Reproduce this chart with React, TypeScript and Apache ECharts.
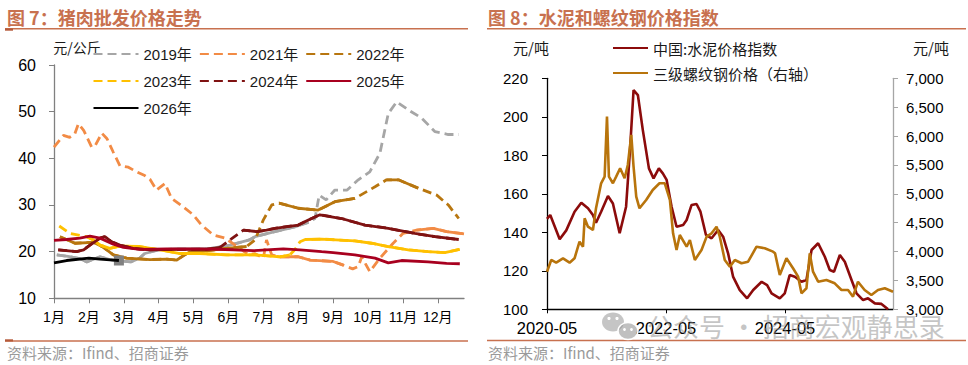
import React, { useEffect, useRef } from 'react';
import * as echarts from 'echarts';

// ---------- Left chart: 猪肉批发价格走势 ----------
const monthLabels = ['1月', '2月', '3月', '4月', '5月', '6月', '7月', '8月', '9月', '10月', '11月', '12月'];
const porkYears = ['2019年', '2021年', '2022年', '2023年', '2024年', '2025年', '2026年'];

// [month position (0 = 1月初, 1 = 2月初 ...), 元/公斤]
const pork2019: [number, number][] = [
  [0.08, 19.3], [0.4, 19.0], [0.75, 18.5], [0.94, 17.8], [1.1, 18.3], [1.32, 18.9], [1.6, 18.3], [1.9, 18.0],
  [2.2, 17.8], [2.45, 18.6], [2.6, 19.6], [3.0, 20.4], [3.5, 20.6], [4.0, 20.6], [4.5, 20.7], [5.04, 21.4],
  [5.6, 22.5], [5.76, 23.2], [6.33, 24.3], [6.9, 25.3], [7.3, 26.3], [7.48, 27.1], [7.6, 32.1], [7.8, 31.1],
  [8.05, 33.2], [8.4, 33.2], [8.72, 35.4], [9.05, 37.1], [9.34, 41.1], [9.58, 49.6], [9.82, 52.1], [10.15, 50.4],
  [10.54, 48.6], [10.92, 45.7], [11.3, 45.1], [11.6, 45.1],
];
const pork2021: [number, number][] = [
  [0, 42.4], [0.27, 44.9], [0.45, 44.5], [0.6, 45.3], [0.7, 47.4], [0.85, 46.0], [1.08, 42.4], [1.18, 42.7],
  [1.37, 45.4], [1.52, 44.2], [1.7, 41.3], [1.89, 38.4], [2.13, 38.1], [2.37, 37.1], [2.6, 36.3], [2.75, 35.5],
  [2.94, 33.2], [3.18, 34.6], [3.37, 31.4], [3.7, 29.6], [3.99, 27.9], [4.23, 25.7], [4.56, 23.6], [4.9, 22.9],
  [5.33, 20.7], [5.57, 19.3], [5.75, 19.6], [6.0, 18.6], [6.09, 22.5], [6.24, 19.3], [6.48, 18.9], [7.0, 18.9],
  [7.34, 18.2], [8.0, 17.9], [8.29, 17.1], [8.56, 16.3], [8.72, 16.8], [8.82, 18.9], [8.92, 17.5], [9.05, 15.7],
  [9.34, 18.6], [9.72, 21.8], [10.0, 23.9], [10.39, 24.6], [10.87, 25.0], [11.25, 24.3], [11.75, 23.8],
];
const pork2022: [number, number][] = [
  [0.17, 23.2], [0.6, 21.8], [1.13, 22.0], [1.4, 21.0], [1.7, 19.3], [2.08, 18.6], [2.75, 18.3], [3.23, 18.4],
  [3.52, 18.2], [3.7, 19.1], [3.9, 20.0], [4.18, 20.0], [4.95, 20.7], [5.52, 21.1], [5.76, 22.5], [6.0, 26.8],
  [6.24, 30.0], [6.45, 30.4], [7.0, 29.3], [7.57, 28.9], [8.05, 30.7], [8.62, 31.4], [9.2, 33.9], [9.53, 35.4],
  [9.87, 35.4], [10.44, 33.6], [10.97, 32.1], [11.3, 30.0], [11.6, 27.1],
];
const pork2023: [number, number][] = [
  [0.15, 25.5], [0.46, 23.9], [0.94, 23.2], [1.13, 22.5], [1.32, 21.4], [1.6, 20.7], [1.89, 21.2], [2.46, 21.1],
  [3.04, 20.4], [3.61, 19.6], [4.18, 19.6], [4.95, 19.3], [5.76, 19.3], [6.48, 18.9], [6.76, 19.3], [6.9, 20.4],
  [7.05, 22.1], [7.2, 22.6], [7.67, 22.7], [8.62, 22.3], [9.1, 21.8], [9.58, 21.1], [10.15, 20.4], [10.72, 20.0],
  [11.2, 19.8], [11.63, 20.5],
];
const pork2024: [number, number][] = [
  [0.12, 20.4], [0.65, 20.0], [0.85, 20.4], [1.03, 21.4], [1.32, 22.9], [1.46, 23.2], [1.65, 22.1], [1.89, 21.4],
  [2.27, 20.7], [2.75, 20.4], [3.61, 20.5], [4.37, 20.5], [4.76, 20.9], [5.04, 22.5], [5.43, 24.6], [5.81, 24.3],
  [6.09, 24.6], [6.33, 25.0], [7.0, 25.7], [7.29, 26.8], [7.62, 27.9], [8.24, 27.1], [8.91, 25.7], [9.58, 25.0],
  [10.34, 23.9], [10.92, 23.2], [11.6, 22.6],
];
const pork2025: [number, number][] = [
  [0, 22.4], [0.36, 22.6], [0.74, 22.9], [1.03, 23.3], [1.32, 22.9], [1.7, 21.6], [1.99, 20.9], [2.46, 20.5],
  [3.23, 20.6], [4.18, 20.6], [5.14, 20.4], [5.71, 20.2], [6.57, 20.6], [7.05, 20.4], [7.67, 20.0], [8.0, 19.8],
  [8.62, 19.3], [9.2, 18.6], [9.58, 17.6], [9.96, 18.1], [10.72, 17.8], [11.25, 17.5], [11.63, 17.4],
];
const pork2026: [number, number][] = [
  [0, 17.6], [0.36, 18.1], [1.0, 18.6], [1.32, 18.4], [1.7, 18.2], [1.86, 18.1],
];
const porkData = [pork2019, pork2021, pork2022, pork2023, pork2024, pork2025, pork2026];

// ---------- Right chart: 水泥和螺纹钢价格指数 ----------
const cementName = '中国:水泥价格指数';
const rebarName = '三级螺纹钢价格（右轴）';
const steelTickLabels = ['2020-05', '2022-05', '2024-05'];

const cementIndex: [string, number][] = [
  ['2020-05-01', 147], ['2020-05-21', 149], ['2020-07-18', 136.4], ['2020-08-28', 141], ['2020-10-18', 150.7],
  ['2020-11-29', 155.4], ['2021-01-09', 152.5], ['2021-02-09', 149], ['2021-02-28', 145], ['2021-03-29', 150.7],
  ['2021-05-10', 158.9], ['2021-06-10', 155], ['2021-07-21', 139.5], ['2021-08-30', 153.3], ['2021-09-25', 184.5],
  ['2021-10-15', 213.9], ['2021-11-11', 211.3], ['2021-12-11', 193.1], ['2022-01-18', 173.2], ['2022-02-16', 168],
  ['2022-03-18', 173.2], ['2022-04-12', 170.6], ['2022-05-05', 167.2], ['2022-06-05', 153.3], ['2022-07-05', 142.9],
  ['2022-08-15', 143.8], ['2022-09-06', 146.4], ['2022-10-06', 154.2], ['2022-11-06', 154.7], ['2022-11-30', 150.7],
  ['2023-01-03', 138.6], ['2023-02-07', 136.9], ['2023-03-17', 141.2], ['2023-04-17', 137.7], ['2023-05-17', 129.1],
  ['2023-06-17', 117], ['2023-07-28', 110], ['2023-09-12', 105.7], ['2023-10-19', 110], ['2023-12-10', 114.3],
  ['2024-01-13', 112.6], ['2024-02-10', 108.3], ['2024-03-30', 105.7], ['2024-04-30', 108.3], ['2024-05-30', 117.8],
  ['2024-07-01', 116.9], ['2024-08-11', 114.3], ['2024-09-11', 115.2], ['2024-10-12', 130.8], ['2024-11-22', 134.3],
  ['2025-01-02', 127.3], ['2025-02-02', 120.4], ['2025-02-28', 119.5], ['2025-04-03', 128.2], ['2025-05-03', 124.7],
  ['2025-06-14', 115.2], ['2025-07-14', 108.3], ['2025-08-24', 104.8], ['2025-09-24', 105.7], ['2025-11-05', 103.1],
  ['2025-12-15', 102.8], ['2026-01-25', 100],
];
const rebarPrice: [string, number][] = [
  ['2020-05-01', 3651], ['2020-05-27', 3854], ['2020-06-27', 3807], ['2020-08-08', 3883], ['2020-09-18', 3807],
  ['2020-10-18', 3883], ['2020-11-18', 4171], ['2020-12-09', 4084], ['2020-12-19', 4576], ['2021-01-09', 4431],
  ['2021-02-09', 4374], ['2021-02-28', 4749], ['2021-03-29', 5182], ['2021-04-20', 5297], ['2021-05-04', 6336],
  ['2021-05-16', 5297], ['2021-06-10', 5182], ['2021-06-30', 5297], ['2021-07-24', 5442], ['2021-08-21', 5269],
  ['2021-09-10', 5499], ['2021-10-01', 6019], ['2021-10-15', 5470], ['2021-11-01', 4950], ['2021-11-21', 4749],
  ['2022-01-01', 4893], ['2022-02-11', 5066], ['2022-03-22', 5182], ['2022-04-24', 5182], ['2022-05-25', 4893],
  ['2022-06-14', 4316], ['2022-07-05', 4027], ['2022-07-25', 4287], ['2022-09-06', 4084], ['2022-09-26', 4200],
  ['2022-10-26', 3854], ['2022-12-06', 4027], ['2023-01-07', 4258], ['2023-02-07', 4316], ['2023-03-07', 4431],
  ['2023-03-27', 4258], ['2023-04-27', 3854], ['2023-05-28', 3738], ['2023-06-28', 3854], ['2023-08-08', 3797],
  ['2023-09-18', 3824], ['2023-11-09', 4084], ['2023-12-29', 4056], ['2024-02-19', 3998], ['2024-03-01', 3970],
  ['2024-03-30', 3594], ['2024-05-10', 3883], ['2024-06-20', 3710], ['2024-07-21', 3565], ['2024-08-11', 3277],
  ['2024-09-11', 3364], ['2024-10-01', 3970], ['2024-10-21', 3651], ['2024-11-22', 3478], ['2025-01-12', 3507],
  ['2025-03-02', 3450], ['2025-04-13', 3334], ['2025-05-23', 3334], ['2025-06-23', 3218], ['2025-07-23', 3478],
  ['2025-09-03', 3334], ['2025-10-14', 3248], ['2025-11-24', 3334], ['2026-01-05', 3364], ['2026-02-25', 3305],
];

// ---------- styles ----------
const porkStyles = [
  { color: '#A6A6A6', dashed: true, solid: [[0, 7.4]] },
  { color: '#F28B45', dashed: true, solid: [[6.3, 8.45], [10.3, 11.75]] },
  { color: '#B8760F', dashed: true, solid: [[0, 5.75], [6.3, 9.0], [9.45, 10.95]] },
  { color: '#FFC000', dashed: true, solid: [[0.5, 6.85], [7.15, 11.75]] },
  { color: '#7F1212', dashed: true, solid: [[0, 4.9], [5.3, 11.75]] },
  { color: '#A8001F', dashed: false, solid: [] as number[][] },
  { color: '#000000', dashed: false, solid: [] as number[][] },
];
const porkLegendRows = [porkYears.slice(0, 3), porkYears.slice(3, 6), porkYears.slice(6)];
const porkLegendRowY = [54, 81, 108];

const LATIN = "'Liberation Sans', Arial, 'Noto Sans CJK SC', sans-serif";
const CJK = "'Noto Sans CJK SC', 'Liberation Sans', sans-serif";
const ACCENT = '#C8714F';

const monthOffset = (d: string) => {
  const [y, m, day] = d.split('-').map(Number);
  return (y - 2020) * 12 + (m - 5) + ((day || 1) - 1) / 30.5;
};

function buildOption() {
  const series: any[] = [];
  porkYears.forEach((name, i) => {
    const st = porkStyles[i];
    const data = porkData[i];
    const base: any = {
      type: 'line', name, xAxisIndex: 0, yAxisIndex: 0, data, symbol: 'none', smooth: false,
      lineStyle: { color: st.color, width: 2.8, type: st.dashed ? [9, 5] : 'solid' },
      itemStyle: { color: st.color }, z: 2 + i,
    };
    if (i === porkYears.length - 1) {
      base.markPoint = {
        symbol: 'rect', symbolSize: 10, itemStyle: { color: '#808080' }, label: { show: false },
        data: [{ coord: data[data.length - 1] }],
      };
    }
    series.push(base);
    if (st.dashed && st.solid.length) {
      const inR = (t: number) => st.solid.some((r) => t >= r[0] && t <= r[1]);
      series.push({
        type: 'line', name, xAxisIndex: 0, yAxisIndex: 0, symbol: 'none', smooth: false,
        data: data.map((p) => (inR(p[0]) ? p : [p[0], '-'])),
        lineStyle: { color: st.color, width: 2.8, type: 'solid' },
        itemStyle: { color: st.color }, z: 2 + i,
      });
    }
  });
  series.push({
    type: 'line', name: cementName, xAxisIndex: 1, yAxisIndex: 1, symbol: 'none',
    data: cementIndex.map(([d, v]) => [monthOffset(d), v]),
    lineStyle: { color: '#8C0B0B', width: 2.6 }, itemStyle: { color: '#8C0B0B' },
  });
  series.push({
    type: 'line', name: rebarName, xAxisIndex: 1, yAxisIndex: 2, symbol: 'none',
    data: rebarPrice.map(([d, v]) => [monthOffset(d), v]),
    lineStyle: { color: '#B8740C', width: 2.6 }, itemStyle: { color: '#B8740C' },
  });

  const steelTickVals = steelTickLabels.map((s) => monthOffset(s + '-01'));
  const gray = '#808080';

  const legendBase = {
    padding: 0, itemHeight: 14, selectedMode: false, itemStyle: { opacity: 0 },
  };
  const legends: any[] = porkLegendRows.map((row, r) => ({
    ...legendBase, data: row, left: 92.5, top: porkLegendRowY[r] - 7.5, itemWidth: 45, itemGap: 7,
    textStyle: { fontSize: 15, color: '#1a1a1a', fontFamily: LATIN },
  }));
  [cementName, rebarName].forEach((n, r) => {
    legends.push({
      ...legendBase, data: [n], left: 612, top: [48, 73][r] - 7.5, itemWidth: 35,
      textStyle: { fontSize: 15, color: '#1a1a1a', fontFamily: CJK },
    });
  });

  return {
    animation: false,
    grid: [
      { left: 54, top: 65, width: 410, height: 233.3, containLabel: false },
      { left: 547, top: 78.3, width: 346, height: 231, containLabel: false },
    ],
    legend: legends,
    xAxis: [
      {
        type: 'value', gridIndex: 0, min: 0, max: 11.75, interval: 1,
        axisLine: { show: true, lineStyle: { color: gray, width: 1.3 } },
        axisTick: { show: true, length: 5, lineStyle: { color: gray }, customValues: monthLabels.map((_, i) => i) },
        axisLabel: {
          margin: 12, fontSize: 14, color: '#000', fontFamily: LATIN,
          customValues: monthLabels.map((_, i) => i),
          formatter: (v: number) => monthLabels[Math.round(v)] ?? '',
        },
        splitLine: { show: false },
      },
      {
        type: 'value', gridIndex: 1, min: 0, max: monthOffset('2026-02-25'),
        axisLine: { show: true, lineStyle: { color: '#000', width: 1.3 } },
        axisTick: { show: true, length: 4, lineStyle: { color: '#000' }, customValues: steelTickVals },
        axisLabel: {
          margin: 10, fontSize: 16.5, color: '#000', fontFamily: LATIN, customValues: steelTickVals,
          formatter: (v: number) => {
            const idx = steelTickVals.findIndex((t) => Math.abs(t - v) < 0.01);
            return idx >= 0 ? steelTickLabels[idx] : '';
          },
        },
        splitLine: { show: false },
      },
    ],
    yAxis: [
      {
        type: 'value', gridIndex: 0, min: 10, max: 60, interval: 10,
        axisLine: { show: true, lineStyle: { color: gray, width: 1.3 } },
        axisTick: { show: true, length: 5, lineStyle: { color: gray } },
        axisLabel: { margin: 18, fontSize: 16, color: '#000', fontFamily: LATIN },
        splitLine: { show: false },
      },
      {
        type: 'value', gridIndex: 1, min: 100, max: 220, interval: 20,
        axisLine: { show: true, lineStyle: { color: '#000', width: 1.3 } },
        axisTick: { show: true, length: 5, lineStyle: { color: '#000' } },
        axisLabel: { margin: 19, fontSize: 15, color: '#000', fontFamily: LATIN },
        splitLine: { show: false },
      },
      {
        type: 'value', gridIndex: 1, position: 'right', min: 3000, max: 7000, interval: 500,
        axisLine: { show: true, lineStyle: { color: '#A6A6A6', width: 1.3 } },
        axisTick: { show: true, length: 5, lineStyle: { color: '#A6A6A6' } },
        axisLabel: {
          margin: 13, fontSize: 15, color: '#000', fontFamily: LATIN,
          formatter: (v: number) => v.toLocaleString('en-US'),
        },
        splitLine: { show: false },
      },
    ],
    series,
    graphic: [
      { type: 'text', x: 7, y: 16.5, style: { text: '图 7：猪肉批发价格走势', fill: ACCENT, font: `bold 18px ${CJK}`, verticalAlign: 'middle' } },
      { type: 'text', x: 488, y: 16.5, style: { text: '图 8：水泥和螺纹钢价格指数', fill: ACCENT, font: `bold 18px ${CJK}`, verticalAlign: 'middle' } },
      { type: 'line', shape: { x1: 5, y1: 28.8, x2: 468, y2: 28.8 }, style: { stroke: ACCENT, lineWidth: 1.5 } },
      { type: 'line', shape: { x1: 487, y1: 28.8, x2: 966, y2: 28.8 }, style: { stroke: ACCENT, lineWidth: 1.5 } },
      { type: 'rect', shape: { x: 5, y: 28.5, width: 8, height: 2.2 }, style: { fill: '#B55A3A' } },
      { type: 'line', shape: { x1: 5, y1: 341, x2: 468, y2: 341 }, style: { stroke: ACCENT, lineWidth: 1.5 } },
      { type: 'line', shape: { x1: 487, y1: 340.5, x2: 966, y2: 340.5 }, style: { stroke: ACCENT, lineWidth: 1.5 } },
      { type: 'rect', shape: { x: 5, y: 339.3, width: 8, height: 2.2 }, style: { fill: '#B55A3A' } },
      { type: 'text', x: 7, y: 352.5, style: { text: '资料来源：Ifind、招商证券', fill: '#9A9A9A', font: `15px ${CJK}`, verticalAlign: 'middle' } },
      { type: 'text', x: 488, y: 352.5, style: { text: '资料来源：Ifind、招商证券', fill: '#9A9A9A', font: `15px ${CJK}`, verticalAlign: 'middle' } },
      { type: 'text', x: 77, y: 47, style: { text: '元/公斤', fill: '#1a1a1a', font: `14px ${CJK}`, align: 'center', verticalAlign: 'middle' } },
      { type: 'text', x: 531, y: 47, style: { text: '元/吨', fill: '#1a1a1a', font: `15px ${CJK}`, align: 'center', verticalAlign: 'middle' } },
      { type: 'text', x: 931, y: 47, style: { text: '元/吨', fill: '#1a1a1a', font: `15px ${CJK}`, align: 'center', verticalAlign: 'middle' } },
      // watermark
      { type: 'ellipse', z: 100, shape: { cx: 613, cy: 322, rx: 11, ry: 9.5 }, style: { fill: 'rgba(150,150,150,0.55)' } },
      { type: 'ellipse', z: 101, shape: { cx: 628, cy: 331, rx: 10, ry: 8.5 }, style: { fill: 'rgba(150,150,150,0.6)', stroke: '#fff', lineWidth: 1.5 } },
      { type: 'circle', z: 102, shape: { cx: 609, cy: 318.5, r: 1.6 }, style: { fill: '#fff' } },
      { type: 'circle', z: 102, shape: { cx: 617, cy: 318.5, r: 1.6 }, style: { fill: '#fff' } },
      { type: 'circle', z: 102, shape: { cx: 624.5, cy: 329.5, r: 1.4 }, style: { fill: '#fff' } },
      { type: 'circle', z: 102, shape: { cx: 631.5, cy: 329.5, r: 1.4 }, style: { fill: '#fff' } },
      { type: 'text', z: 100, x: 647, y: 325.5, style: { text: '公众号 · 招商宏观静思录', fill: 'rgba(140,140,140,0.5)', font: `26px ${CJK}`, verticalAlign: 'middle' } },
    ],
  };
}

export default function App() {
  const ref = useRef<HTMLDivElement>(null);
  useEffect(() => {
    document.body.style.margin = '0';
    if (!ref.current) return;
    const chart = echarts.init(ref.current, undefined, { renderer: 'svg' });
    chart.setOption(buildOption() as any);
    return () => chart.dispose();
  }, []);
  return <div ref={ref} style={{ position: 'absolute', left: 0, top: 0, width: 968, height: 365, background: '#fff' }} />;
}
